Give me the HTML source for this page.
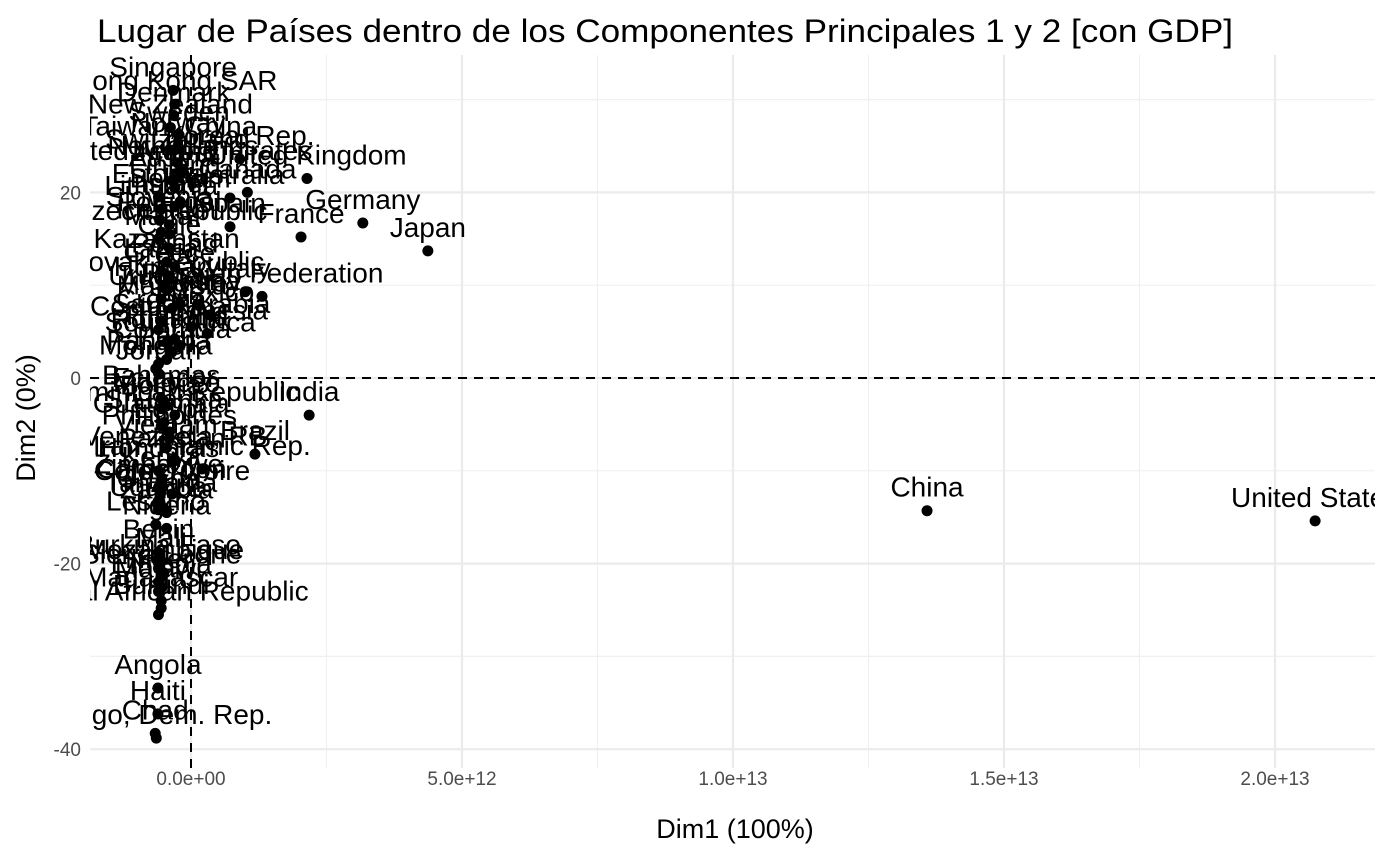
<!DOCTYPE html>
<html><head><meta charset="utf-8"><style>
html,body{margin:0;padding:0;background:#fff;}
svg{display:block;font-family:"Liberation Sans",Arial,sans-serif;}
</style></head><body>
<svg id="chart" width="1388" height="857" viewBox="0 0 1388 857" xmlns="http://www.w3.org/2000/svg">
<defs><clipPath id="panelClip"><rect x="90" y="50" width="1285" height="720"/></clipPath></defs>
<text x="97" y="42" font-size="32" textLength="1136" lengthAdjust="spacingAndGlyphs" fill="#000">Lugar de Países dentro de los Componentes Principales 1 y 2 [con GDP]</text>
<g id="grid"></g>
<g id="refs"></g>
<g id="marks" clip-path="url(#panelClip)"></g>
<g id="axes"></g>
<text x="735" y="838" font-size="27" text-anchor="middle" fill="#000">Dim1 (100%)</text>
<text transform="translate(35,418) rotate(-90)" font-size="27" text-anchor="middle" fill="#000">Dim2 (0%)</text>
</svg>
<script>
const names = ["Singapore","Hong Kong SAR","Denmark","New Zealand","Sweden","Taiwan, China","Norway","Korea, Rep.","Switzerland","United Kingdom","Netherlands","United Arab Emirates","Ireland","Austria","Canada","Australia","Spain","Estonia","Belgium","Lithuania","Israel","Finland","Slovenia","Portugal","Iceland","Czech Republic","Malta","Chile","Kazakhstan","Poland","Latvia","Greece","Italy","Russian Federation","Slovak Republic","Hungary","Uruguay","Argentina","Malaysia","Turkey","Mexico","Croatia","Saudi Arabia","Costa Rica","Indonesia","Thailand","Romania","South Africa","Colombia","Peru","Panama","Mongolia","Jordan","Bahamas","India","Ecuador","Morocco","Bolivia","Dominican Republic","Sri Lanka","Guatemala","Egypt","Brazil","Philippines","Vietnam","Venezuela, RB","Iran, Islamic Rep.","Pakistan","Honduras","Kenya","Zimbabwe","Cameroon","Côte d'Ivoire","Ghana","Tanzania","Uganda","Zambia","Lesotho","Nigeria","Benin","Mali","Burkina Faso","Mozambique","Sierra Leone","Niger","Ethiopia","Malawi","Madagascar","Burundi","Central African Republic","Angola","Haiti","Chad","Congo, Dem. Rep.","China","United States","Japan","Germany","France"];
const dim1 = [-0.33,-0.30,-0.32,-0.38,-0.22,-0.40,-0.24,0.90,-0.25,2.14,-0.15,-0.20,-0.30,-0.35,1.04,0.72,0.72,-0.60,-0.20,-0.55,-0.30,-0.30,-0.58,-0.40,-0.55,-0.40,-0.60,-0.40,-0.45,-0.30,-0.55,-0.40,1.00,1.31,-0.50,-0.45,-0.55,-0.20,-0.35,0.15,0.35,-0.55,0.00,-0.60,0.30,-0.30,-0.45,-0.20,-0.35,-0.45,-0.60,-0.65,-0.60,-0.55,2.18,-0.50,-0.45,-0.55,-0.30,-0.50,-0.55,-0.40,1.18,-0.40,-0.45,-0.30,0.20,-0.35,-0.60,-0.55,-0.60,-0.55,-0.35,-0.60,-0.55,-0.60,-0.45,-0.65,-0.45,-0.60,-0.55,-0.60,-0.50,-0.55,-0.60,-0.55,-0.60,-0.55,-0.55,-0.60,-0.61,-0.61,-0.66,-0.64,13.58,20.74,4.37,3.17,2.03];
const dim2 = [31.0,29.5,28.3,27.0,26.2,24.6,25.0,23.6,23.2,21.5,22.5,22.0,22.0,21.3,20.0,19.4,16.3,19.5,19.0,18.2,18.5,20.5,17.0,16.5,15.7,15.5,15.0,14.0,12.5,12.0,11.5,11.0,9.3,8.8,10.0,9.5,8.5,8.0,7.5,7.8,6.8,6.0,5.5,5.2,4.8,4.2,3.8,3.5,2.8,2.0,1.5,1.0,0.5,-2.2,-4.0,-2.5,-3.0,-3.3,-4.0,-4.8,-5.2,-5.8,-8.2,-6.5,-7.5,-8.8,-9.8,-9.0,-10.0,-11.0,-11.8,-12.3,-12.5,-13.3,-13.8,-14.2,-14.5,-15.8,-16.2,-18.8,-19.7,-20.5,-21.0,-21.5,-22.0,-22.5,-23.0,-24.0,-24.8,-25.5,-33.4,-36.2,-38.3,-38.8,-14.3,-15.4,13.7,16.7,15.2];
const xTicks = [0,5,10,15,20];
const xTickLabels = ["0.0e+00","5.0e+12","1.0e+13","1.5e+13","2.0e+13"];
const yTicks = [-40,-20,0,20];
const yTickLabels = ["-40","-20","0","20"];

const NS = "http://www.w3.org/2000/svg";
const PX0 = 90, PX1 = 1375, PY0 = 55, PY1 = 768;
function sx(v){ return 191 + v * 54.2; }
function sy(v){ return 378 - v * 9.28; }
function mk(tag, attrs, parent){
  const e = document.createElementNS(NS, tag);
  for (const k in attrs) e.setAttribute(k, attrs[k]);
  parent.appendChild(e);
  return e;
}
const grid = document.getElementById('grid');
const axes = document.getElementById('axes');
const refs = document.getElementById('refs');
const marks = document.getElementById('marks');

for (let i = 0; i < xTicks.length - 1; i++) {
  const v = (xTicks[i] + xTicks[i+1]) / 2;
  const l = mk('line', {x1:sx(v), x2:sx(v), y1:PY0, y2:PY1, stroke:'#f0f0f0', 'stroke-width':1.2}, grid);
  
  
}
for (let i = 0; i < yTicks.length - 1; i++) {
  const v = (yTicks[i] + yTicks[i+1]) / 2;
  const l = mk('line', {x1:PX0, x2:PX1, y1:sy(v), y2:sy(v), stroke:'#f0f0f0', 'stroke-width':1.2}, grid);
  
  
}
{
  const v = yTicks[yTicks.length-1] + 10;
  const l = mk('line', {x1:PX0, x2:PX1, y1:sy(v), y2:sy(v), stroke:'#f0f0f0', 'stroke-width':1.2}, grid);
  
  
}
xTicks.forEach((v, i) => {
  const l = mk('line', {x1:sx(v), x2:sx(v), y1:PY0, y2:PY1, stroke:'#ebebeb', 'stroke-width':2.2}, grid);
  
  
  const t = mk('text', {x:sx(v), y:785, 'font-size':19, 'text-anchor':'middle', fill:'#4d4d4d'}, axes);
  t.textContent = xTickLabels[i];
  
  
});
yTicks.forEach((v, i) => {
  const l = mk('line', {x1:PX0, x2:PX1, y1:sy(v), y2:sy(v), stroke:'#ebebeb', 'stroke-width':2.2}, grid);
  
  
  const t = mk('text', {x:81, y:sy(v)+7, 'font-size':19, 'text-anchor':'end', fill:'#4d4d4d'}, axes);
  t.textContent = yTickLabels[i];
  
  
});
{
  const h = mk('line', {x1:PX0, x2:PX1, y1:sy(0), y2:sy(0), stroke:'#000', 'stroke-width':2, 'stroke-dasharray':'9 7'}, refs);
  
  
  const v = mk('line', {x1:sx(0), x2:sx(0), y1:PY0, y2:PY1, stroke:'#000', 'stroke-width':2, 'stroke-dasharray':'9 7'}, refs);
  
  
}
names.forEach((n, i) => {
  const cx = sx(dim1[i]), cy = sy(dim2[i]);
  const c = mk('circle', {cx:cx, cy:cy, r:5.5, fill:'#000'}, marks);
  
  
  const t = mk('text', {x:cx, y:cy-14, 'font-size':28, 'text-anchor':'middle', fill:'#000'}, marks);
  t.textContent = n;
  
  
});
</script>
</body></html>
